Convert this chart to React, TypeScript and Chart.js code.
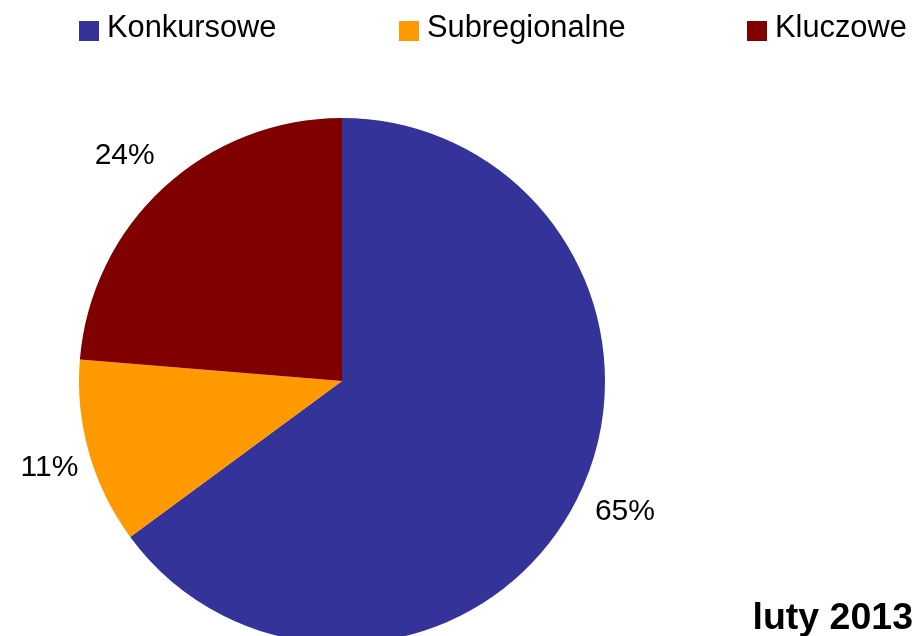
import React, { useEffect, useRef } from "react";
import { Chart, registerables } from "chart.js";

Chart.register(...registerables);

const categories = ["Konkursowe", "Subregionalne", "Kluczowe"];
const values = [64.9, 11.4, 23.7];
const colors = ["#333399", "#FF9900", "#800000"];
const legendX = [79, 399, 747];
const caption = "luty 2013";

const FONT = "'Liberation Sans', Arial, Helvetica, sans-serif";
// small per-label offsets (Excel-like outside-end label placement)
const labelNudge = [
  [6, -9],
  [6, 2],
  [-7, 3],
];

const overlayPlugin = {
  id: "overlay",
  afterDraw(chart: any) {
    const ctx = chart.ctx;
    const meta = chart.getDatasetMeta(0);
    const ds = chart.data.datasets[0];
    const total = (ds.data as number[]).reduce((a, b) => a + b, 0);
    ctx.save();
    // value labels
    ctx.font = `30px ${FONT}`;
    ctx.fillStyle = "#000";
    ctx.textAlign = "center";
    ctx.textBaseline = "middle";
    meta.data.forEach((arc: any, i: number) => {
      const p = arc.getProps(["x", "y", "startAngle", "endAngle", "outerRadius"], true);
      const mid = (p.startAngle + p.endAngle) / 2;
      const d = p.outerRadius * 1.18;
      const pct = Math.round(((ds.data[i] as number) / total) * 100);
      ctx.fillText(
        pct + "%",
        p.x + Math.cos(mid) * d + labelNudge[i][0],
        p.y + Math.sin(mid) * d + labelNudge[i][1]
      );
    });
    // legend
    ctx.font = `30.8px ${FONT}`;
    ctx.textAlign = "left";
    ctx.textBaseline = "alphabetic";
    (chart.data.labels as string[]).forEach((lab, i) => {
      const x = legendX[i];
      ctx.fillStyle = (ds.backgroundColor as string[])[i];
      ctx.fillRect(x, 21, 20, 20);
      ctx.fillStyle = "#000";
      ctx.fillText(lab, x + 28, 37);
    });
    // caption
    ctx.font = `bold 37.5px ${FONT}`;
    ctx.textAlign = "right";
    ctx.fillText(caption, 913, 629);
    ctx.restore();
  },
};

export default function App() {
  const ref = useRef<HTMLCanvasElement>(null);
  useEffect(() => {
    document.body.style.margin = "0";
    const chart = new Chart(ref.current!, {
      type: "pie",
      data: {
        labels: categories,
        datasets: [
          {
            data: values,
            backgroundColor: colors,
            borderWidth: 0,
          },
        ],
      },
      options: {
        responsive: false,
        animation: false,
        layout: { padding: { left: 79, right: 313, top: 118, bottom: 56 } },
        plugins: {
          legend: { display: false },
          tooltip: { enabled: false },
        },
      },
      plugins: [overlayPlugin],
    });
    return () => chart.destroy();
  }, []);
  return (
    <div style={{ width: 918, height: 636, overflow: "hidden", background: "#fff" }}>
      <canvas ref={ref} width={918} height={700} style={{ width: 918, height: 700, display: "block" }} />
    </div>
  );
}
